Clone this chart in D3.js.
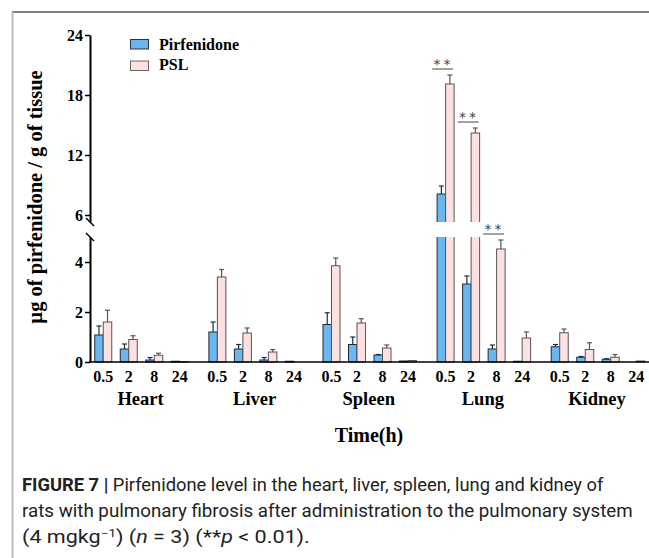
<!DOCTYPE html>
<html>
<head>
<meta charset="utf-8">
<script src="https://cdn.jsdelivr.net/npm/d3@7"></script>
<style>
  html, body { margin: 0; padding: 0; background: #fff; }
  svg { display: block; }
</style>
</head>
<body>
<svg id="chart" width="649" height="558"></svg>
<script>
const organs = ["Heart", "Liver", "Spleen", "Lung", "Kidney"];
const times = ["0.5", "2", "8", "24"];
const seriesNames = ["Pirfenidone", "PSL"];

// means per organ, one value per time point
const pirfMean = [
  [1.08, 0.52, 0.08, 0.03],
  [1.2, 0.52, 0.08, 0.03],
  [1.5, 0.7, 0.28, 0.04],
  [8.1, 3.12, 0.52, 0.03],
  [0.61, 0.19, 0.11, 0]
];
const pirfSd = [
  [0.36, 0.2, 0.1, 0],
  [0.4, 0.18, 0.1, 0],
  [0.47, 0.3, 0.02, 0],
  [0.8, 0.32, 0.16, 0],
  [0.09, 0.03, 0.02, 0]
];
const pslMean = [
  [1.6, 0.9, 0.27, 0.02],
  [3.4, 1.16, 0.4, 0],
  [3.85, 1.56, 0.56, 0.06],
  [19.1, 14.2, 4.52, 0.96],
  [1.17, 0.5, 0.19, 0.04]
];
const pslSd = [
  [0.47, 0.15, 0.08, 0],
  [0.3, 0.2, 0.1, 0],
  [0.31, 0.17, 0.12, 0],
  [0.9, 0.5, 0.36, 0.24],
  [0.15, 0.27, 0.11, 0]
];
const lowTicks = [0, 2, 4];
const highTicks = [6, 12, 18, 24];
// significance marks (**) over lung PSL bars
const sigOrgan = "Lung";
const sigTimes = ["0.5", "2", "8"];

const svg = d3.select("#chart");
const serif = "'Liberation Serif', 'Times New Roman', serif";
const colors = { Pirfenidone: "#6cb6f0", PSL: "#fde0e0" };
const strokes = { Pirfenidone: "#1e2a36", PSL: "#555" };

// frame of the figure panel
svg.append("line").attr("x1", 12).attr("x2", 649).attr("y1", 12).attr("y2", 12)
  .attr("stroke", "#555").attr("stroke-width", 1.5);
svg.append("line").attr("x1", 12.5).attr("x2", 12.5).attr("y1", 12).attr("y2", 558)
  .attr("stroke", "#bdbdbd").attr("stroke-width", 2);

// broken y axis: two linear pieces
const yLow = d3.scaleLinear().domain([0, 5]).range([362, 237]);
const yHigh = d3.scaleLinear().domain([5.3, 24]).range([222, 35]);
const y = v => v <= 5 ? yLow(v) : yHigh(Math.max(v, 5.3));

const x0 = d3.scaleBand().domain(organs).range([90.5, 649]).paddingInner(0.106).paddingOuter(0);
const x1 = d3.scaleBand().domain(times).range([0, x0.bandwidth()]);
const xs = d3.scaleBand().domain(seriesNames).range([-8.5, 8.5]);
const cx = (o, t) => x0(o) + x1(t) + x1.bandwidth() / 2;

// flatten into bar records
const bars = [];
organs.forEach((o, i) => {
  times.forEach((t, j) => {
    bars.push({ organ: o, time: t, series: "Pirfenidone", v: pirfMean[i][j], sd: pirfSd[i][j] });
    bars.push({ organ: o, time: t, series: "PSL", v: pslMean[i][j], sd: pslSd[i][j] });
  });
});

const barG = svg.append("g");
barG.selectAll("rect.bar").data(bars).enter().append("rect")
  .attr("class", "bar")
  .attr("x", d => cx(d.organ, d.time) + xs(d.series))
  .attr("width", xs.bandwidth())
  .attr("y", d => y(d.v))
  .attr("height", d => y(0) - y(d.v))
  .attr("fill", d => colors[d.series])
  .attr("stroke", d => strokes[d.series])
  .attr("stroke-width", 1);

// white gap where tall bars cross the axis break
barG.selectAll("rect.gap").data(bars.filter(d => d.v > 5)).enter().append("rect")
  .attr("class", "gap")
  .attr("x", d => cx(d.organ, d.time) + xs(d.series) - 1.5)
  .attr("width", xs.bandwidth() + 3)
  .attr("y", yHigh(5.3))
  .attr("height", yLow(5) - yHigh(5.3))
  .attr("fill", "#fff");

// error bars (upper only)
const errs = bars.filter(d => d.sd > 0);
const errG = svg.append("g");
errG.selectAll("line.err").data(errs).enter().append("line")
  .attr("x1", d => cx(d.organ, d.time) + xs(d.series) + xs.bandwidth() / 2)
  .attr("x2", d => cx(d.organ, d.time) + xs(d.series) + xs.bandwidth() / 2)
  .attr("y1", d => y(d.v))
  .attr("y2", d => y(d.v + d.sd))
  .attr("stroke", d => strokes[d.series]).attr("stroke-width", 1.2);
errG.selectAll("line.cap").data(errs).enter().append("line")
  .attr("x1", d => cx(d.organ, d.time) + xs(d.series) + xs.bandwidth() / 2 - 2.5)
  .attr("x2", d => cx(d.organ, d.time) + xs(d.series) + xs.bandwidth() / 2 + 2.5)
  .attr("y1", d => y(d.v + d.sd))
  .attr("y2", d => y(d.v + d.sd))
  .attr("stroke", d => strokes[d.series]).attr("stroke-width", 1.2);

// significance marks
const sigG = svg.append("g");
sigTimes.forEach(t => {
  const i = organs.indexOf(sigOrgan), j = times.indexOf(t);
  const top = y(pslMean[i][j] + pslSd[i][j]) - 6;
  const c = cx(sigOrgan, t) - 3;
  sigG.append("line").attr("x1", c - 10.5).attr("x2", c + 10.5)
    .attr("y1", top).attr("y2", top).attr("stroke", "#444").attr("stroke-width", 1);
  sigG.append("text").attr("x", c + 1).attr("y", top)
    .attr("text-anchor", "middle")
    .attr("font-family", "'DejaVu Sans', sans-serif").attr("font-size", 14)
    .attr("letter-spacing", 3)
    .attr("fill", "#444").text("**");
});

// y axis pieces
function styleAxis(g) {
  g.select(".domain").attr("stroke", "#000").attr("stroke-width", 2);
  g.selectAll(".tick line").attr("stroke", "#000").attr("stroke-width", 1.5);
  g.selectAll(".tick text").attr("font-family", serif).attr("font-weight", "bold")
    .attr("font-size", 16).attr("fill", "#000");
}
svg.append("g").attr("transform", "translate(90,0)")
  .call(d3.axisLeft(yHigh).tickValues(highTicks).tickFormat(d3.format("d"))
    .tickSize(5).tickSizeOuter(0).tickPadding(2))
  .call(styleAxis);
svg.append("g").attr("transform", "translate(90,0)")
  .call(d3.axisLeft(yLow).tickValues(lowTicks).tickFormat(d3.format("d"))
    .tickSize(5).tickSizeOuter(0).tickPadding(2))
  .call(styleAxis);
// break marks
[yHigh(5.3), yLow(5)].forEach(by => {
  svg.append("line").attr("x1", 86).attr("x2", 94).attr("y1", by - 4).attr("y2", by + 4)
    .attr("stroke", "#000").attr("stroke-width", 1.5);
});

// x baseline and labels
svg.append("line").attr("x1", 89).attr("x2", 649).attr("y1", 362).attr("y2", 362)
  .attr("stroke", "#000").attr("stroke-width", 1.5);
const tickG = svg.append("g").attr("font-family", serif).attr("font-weight", "bold")
  .attr("text-anchor", "middle");
organs.forEach(o => {
  times.forEach(t => {
    tickG.append("text").attr("x", cx(o, t)).attr("y", 382).attr("font-size", 16).text(t);
  });
  tickG.append("text").attr("x", x0(o) + x0.bandwidth() / 2 - 1).attr("y", 405)
    .attr("font-size", 18.5).text(o);
});
tickG.append("text").attr("x", 369).attr("y", 442).attr("font-size", 20).text("Time(h)");

// y title
svg.append("text")
  .attr("transform", "translate(42,197) rotate(-90)")
  .attr("text-anchor", "middle")
  .attr("font-family", serif).attr("font-weight", "bold").attr("font-size", 20.5)
  .text("µg of pirfenidone / g of tissue");

// legend
const legend = svg.append("g").attr("font-family", serif).attr("font-weight", "bold").attr("font-size", 16);
seriesNames.forEach((s, i) => {
  legend.append("rect").attr("x", 130.5).attr("y", 39.5 + i * 21.5).attr("width", 18).attr("height", 9.5)
    .attr("fill", colors[s]).attr("stroke", i === 0 ? "#333" : "#666");
  legend.append("text").attr("x", 159).attr("y", 49.5 + i * 20.5).text(s);
});

// caption, squeezed to the widths of the original condensed type
const cap = svg.append("g").attr("font-family", "'Liberation Sans Narrow', Roboto, 'Liberation Sans', sans-serif")
  .attr("font-size", 17.5).attr("fill", "#222");
const l1 = cap.append("text").attr("y", 0);
l1.append("tspan").attr("font-weight", "bold").text("FIGURE 7 | ");
l1.append("tspan").text("Pirfenidone level in the heart, liver, spleen, lung and kidney of");
const l2 = cap.append("text").text("rats with pulmonary fibrosis after administration to the pulmonary system");
const l3 = cap.append("text");
l3.append("tspan").text("(4 mgkg");
l3.append("tspan").attr("font-size", 11).attr("dy", -6).text("−1");
l3.append("tspan").attr("dy", 6).text(") (");
l3.append("tspan").attr("font-style", "italic").text("n");
l3.append("tspan").text(" = 3) (**");
l3.append("tspan").attr("font-style", "italic").text("p");
l3.append("tspan").text(" < 0.01).");
[[l1, 491, 582], [l2, 517, 611], [l3, 543, 288]].forEach(([t, ty, w]) => {
  const nat = t.node().getComputedTextLength();
  t.attr("transform", `translate(22,${ty}) scale(${w / nat},1)`);
});
</script>
</body>
</html>
